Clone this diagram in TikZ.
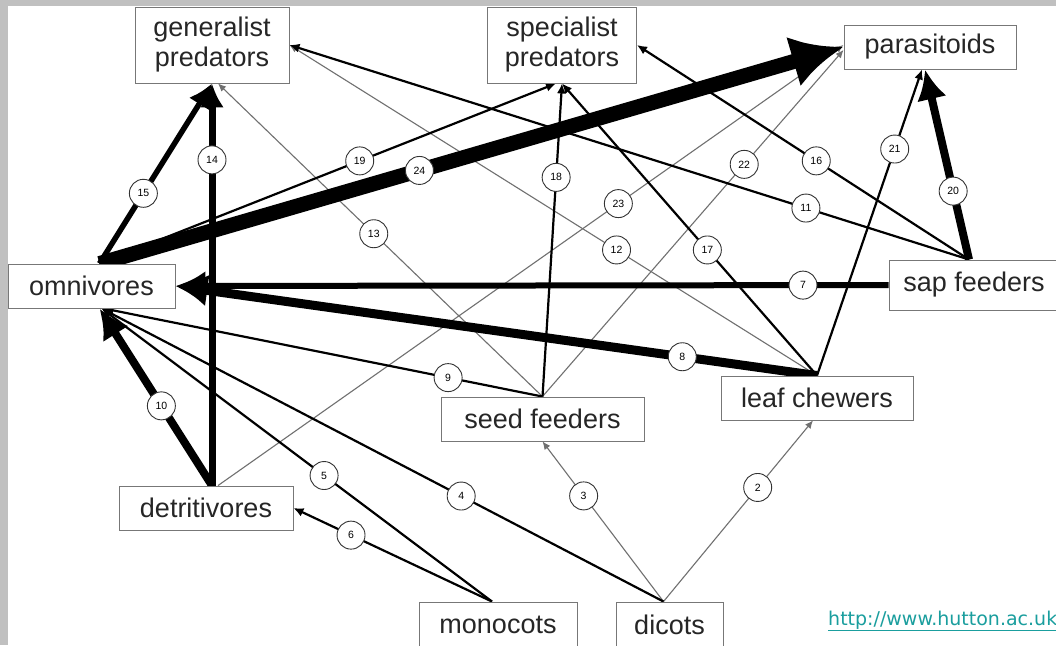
\documentclass[tikz,border=0pt]{standalone}
\usepackage{fontspec}
\setmainfont{Liberation Sans}
\newfontfamily\urlfont{DejaVu Sans}
\usetikzlibrary{arrows.meta}
\definecolor{framegray}{HTML}{C0C0C0}
\definecolor{boxline}{HTML}{777777}
\definecolor{thinline}{HTML}{707070}
\definecolor{linkteal}{HTML}{1A9E9E}
\pgfdeclarelayer{bg}
\pgfsetlayers{bg,main}
\tikzset{
  box/.style={draw=boxline,fill=white,line width=0.9pt,inner sep=0pt,align=center,
    text=black!85,font=\fontsize{27}{30}\selectfont},
  num/.style={circle,draw=black!80,fill=white,line width=0.9pt,inner sep=0pt,
    minimum size=28pt,font=\fontsize{10.5}{11}\selectfont},
  weaklink/.style={draw=thinline,line width=1.1pt,-{Latex[length=8pt,width=7pt]}},
  midlink/.style={draw=black,line width=2.2pt,-{Latex[length=10pt,width=9pt]}},
  heavylink/.style 2 args={draw=black,line width=#1,-{Latex[length=#2,width=#2]}},
}
\begin{document}
\begin{tikzpicture}[x=1pt,y=-1pt]
\useasboundingbox (0,0) rectangle (1056,645);
% compartments
\node[box,minimum width=154pt,minimum height=76pt] (gen) at (212,45) {generalist\\predators};
\node[box,minimum width=149pt,minimum height=76pt] (spec) at (562,45) {specialist\\predators};
\node[box,minimum width=172pt,minimum height=44pt] (para) at (930,47) {parasitoids};
\node[box,minimum width=167pt,minimum height=44pt] (omni) at (91.5,286) {omnivores};
\node[box,minimum width=170pt,minimum height=50pt] (sap) at (974,285) {sap feeders};
\node[box,minimum width=192pt,minimum height=44pt] (leaf) at (817,398) {leaf chewers};
\node[box,minimum width=203pt,minimum height=44pt] (seed) at (542.5,419) {seed feeders};
\node[box,minimum width=174pt,minimum height=44pt] (detr) at (206,508) {detritivores};
\node[box,minimum width=158pt,minimum height=46pt] (mono) at (498,625) {monocots};
\node[box,minimum width=107pt,minimum height=46pt] (dicots) at (669.5,625) {dicots};
\node[anchor=base west,inner sep=0pt,text=linkteal,font=\urlfont\fontsize{19}{20}\selectfont]
  (url) at (828,625) {\underline{http://www.hutton.ac.uk}};

\begin{pgfonlayer}{bg}
\fill[framegray] (0,0) rectangle (1056,645);
\fill[white] (8,6) rectangle (1056,645);
% weak links
\draw[weaklink] ([xshift=-6pt]dicots.north) -- coordinate[pos=0.63](l2) ([xshift=-4pt]leaf.south);
\draw[weaklink] ([xshift=-6pt]dicots.north) -- coordinate[pos=0.66](l3) (seed.south);
\draw[weaklink] (leaf.north) -- coordinate[pos=0.38](l12) (gen.east);
\draw[weaklink] (seed.north) -- coordinate[pos=0.52](l13) ([xshift=6pt]gen.south);
\draw[weaklink] (seed.north) -- coordinate[pos=0.67](l22) ([yshift=-3pt]para.west);
\draw[weaklink] ([xshift=12pt]detr.north) -- coordinate[pos=0.64](l23) ([yshift=2pt]para.west);
% medium links
\draw[midlink] ([xshift=-6pt]dicots.north) -- coordinate[pos=0.36](l4) ([xshift=10pt]omni.south);
\draw[midlink] ([xshift=-6pt]mono.north) -- coordinate[pos=0.43](l5) ([xshift=10pt]omni.south);
\draw[midlink] ([xshift=-6pt]mono.north) -- coordinate[pos=0.71](l6) (detr.east);
\draw[midlink] (seed.north) -- coordinate[pos=0.215](l9) ([xshift=12pt]omni.south);
\draw[midlink] ([xshift=-5pt]sap.north) -- coordinate[pos=0.24](l11) (gen.east);
\draw[midlink] ([xshift=-5pt]sap.north) -- coordinate[pos=0.46](l16) (spec.east);
\draw[midlink] (leaf.north) -- coordinate[pos=0.43](l17) (spec.south);
\draw[midlink] (seed.north) -- coordinate[pos=0.70](l18) (spec.south);
\draw[midlink] ([xshift=8pt]omni.north) -- coordinate[pos=0.57](l19) ([xshift=-6pt]spec.south);
\draw[midlink] (leaf.north) -- coordinate[pos=0.74](l21) ([xshift=-8pt]para.south);
% heavy links
\draw[heavylink={6pt}{30pt}] (sap.west) -- coordinate[pos=0.12](l7) (omni.east);
\draw[heavylink={9pt}{32pt}] (leaf.north) -- coordinate[pos=0.21](l8) (omni.east);
\draw[heavylink={8pt}{30pt}] ([xshift=6pt]detr.north) -- coordinate[pos=0.45](l10) ([xshift=8pt]omni.south);
\draw[heavylink={7pt}{24pt}] ([xshift=6pt]detr.north) -- coordinate[pos=0.81](l14) (gen.south);
\draw[heavylink={5.5pt}{24pt}] ([xshift=8pt]omni.north) -- coordinate[pos=0.39](l15) (gen.south);
\draw[heavylink={8pt}{30pt}] ([xshift=-5pt]sap.north) -- coordinate[pos=0.36](l20) ([xshift=-5pt]para.south);
\draw[heavylink={15pt}{52pt}] ([xshift=8pt]omni.north) -- coordinate[pos=0.43](l24) (para.west);
\end{pgfonlayer}

% link numbers
\foreach \n in {2,...,24}
  \node[num] (n\n) at (l\n) {\n};
\end{tikzpicture}
\end{document}
